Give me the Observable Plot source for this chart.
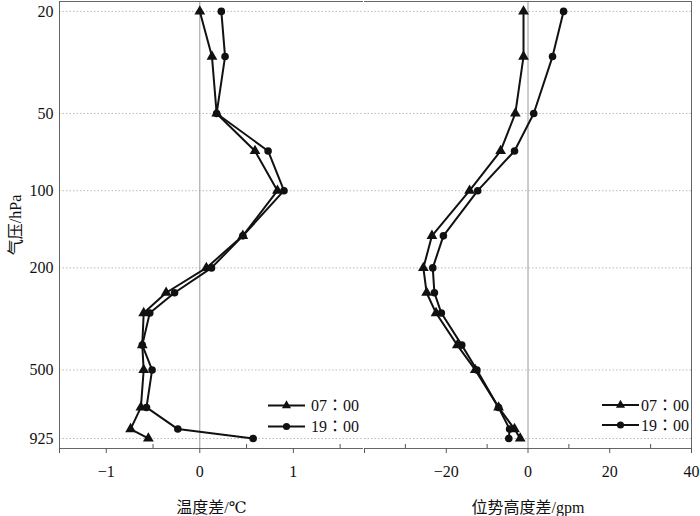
<!DOCTYPE html>
<html>
<head>
<meta charset="utf-8">
<script src="https://cdn.jsdelivr.net/npm/d3@7"></script>
<script src="https://cdn.jsdelivr.net/npm/@observablehq/plot@0.6"></script>
<style>
  html, body { margin: 0; padding: 0; background: #fff; }
  #wrap { position: relative; width: 700px; height: 516px; display: flex; }
  #wrap svg { display: block; }
  #legend { position: absolute; left: 0; top: 0; pointer-events: none; }
</style>
</head>
<body>
<div id="wrap"></div>
<script>
const levels = [20, 30, 50, 70, 100, 150, 200, 250, 300, 400, 500, 700, 850, 925];
const temp07 = [0.0, 0.13, 0.18, 0.59, 0.83, 0.46, 0.07, -0.36, -0.60, -0.615, -0.60, -0.63, -0.74, -0.55];
const temp19 = [0.23, 0.27, 0.18, 0.73, 0.90, 0.46, 0.125, -0.27, -0.535, -0.615, -0.51, -0.57, -0.235, 0.57];
const hgt07 = [-1.1, -1.1, -3.1, -6.7, -14.3, -23.5, -25.6, -24.8, -22.5, -17.3, -12.9, -7.2, -3.3, -1.9];
const hgt19 = [8.7, 6.0, 1.4, -3.3, -12.3, -20.7, -23.3, -22.9, -21.2, -16.2, -12.5, -7.2, -4.5, -4.7];
const yTicks = [20, 50, 100, 200, 500, 925];
const seriesNames = ["07\uFF1A00", "19\uFF1A00"];
const tempMajor = [-1.5, -1, 0, 1];
const tempMinor = [-0.5, 0.5, 1.5];
const hgtMajor = [-40, -20, 0, 20, 40];
const hgtMinor = [-30, -10, 10, 30];

const H = 516, MT = 1, MB = 68;
const plotH = H - MT - MB;
const font = "Liberation Serif, Times New Roman, DejaVu Serif, Noto Sans CJK TC, serif";
const fmt = d => d < 0 ? "\u2212" + Math.abs(d) : String(d);

function rows(vals) { return levels.map((p, i) => ({p, v: vals[i]})); }

function panel({width, ml, mr, domain, s07, s19, major, minor, label, showY, fullFrame}) {
  const d07 = rows(s07), d19 = rows(s19);
  return Plot.plot({
    width, height: H, marginTop: MT, marginBottom: MB, marginLeft: ml, marginRight: mr,
    style: {fontFamily: font, fontSize: "16px", color: "#111", background: "white"},
    x: {domain},
    y: {type: "log", domain: [18.3, 1012], reverse: true},
    marks: [
      Plot.ruleY(yTicks, {y: d => d, stroke: "#bbb", strokeDasharray: "1.5,2"}),
      Plot.ruleX([0], {x: d => d, stroke: "#9a9a9a", strokeWidth: 1}),
      fullFrame ? Plot.frame({stroke: "#666"}) : null,
      fullFrame ? null : Plot.frame({anchor: "top", stroke: "#666"}),
      fullFrame ? null : Plot.frame({anchor: "right", stroke: "#666"}),
      fullFrame ? null : Plot.frame({anchor: "bottom", stroke: "#666"}),
      Plot.tickX(minor, {x: d => d, stroke: "#555", insetTop: plotH - 4}),
      Plot.axisX({ticks: major, tickSize: 5, tickPadding: 12, stroke: "#555", fontFamily: font,
        tickFormat: d => (d === domain[0] ? "" : fmt(d)),
        label, labelAnchor: "center", labelOffset: 64, labelArrow: "none", fontSize: 16}),
      showY ? Plot.text(yTicks, {y: d => d, text: d => String(d), frameAnchor: "left", textAnchor: "end",
        dx: -6, fontSize: 16, fontFamily: font, fill: "#111"}) : null,
      Plot.axisY({ticks: [], label: showY ? "气压/hPa" : null, labelAnchor: "center", labelOffset: 50,
        labelArrow: "none", fontSize: 16, fontFamily: font}),
      Plot.line(d07, {x: "v", y: "p", stroke: "#111", strokeWidth: 2}),
      Plot.line(d19, {x: "v", y: "p", stroke: "#111", strokeWidth: 2}),
      Plot.dot(d07, {x: "v", y: "p", symbol: "triangle", r: 4, fill: "#111", stroke: "none"}),
      Plot.dot(d19, {x: "v", y: "p", symbol: "circle", r: 3.8, fill: "#111", stroke: "none"})
    ]
  });
}

const wrap = document.getElementById("wrap");
wrap.appendChild(panel({width: 363, ml: 59, mr: 0, domain: [-1.5, 1.75], s07: temp07, s19: temp19,
  major: tempMajor, minor: tempMinor, label: "温度差/℃", showY: true, fullFrame: true}));
wrap.appendChild(panel({width: 337, ml: 1, mr: 9, domain: [-40, 40], s07: hgt07, s19: hgt19,
  major: hgtMajor, minor: hgtMinor, label: "位势高度差/gpm", showY: false, fullFrame: false}));

// legends (one per panel)
const leg = d3.select(wrap).append("svg").attr("id", "legend").attr("width", 700).attr("height", H);
const legendSpots = [{x0: 268, x1: 305, tx: 311, y0: 405.5, dy: 21}, {x0: 602, x1: 639, tx: 641, y0: 405, dy: 20}];
legendSpots.forEach(s => {
  seriesNames.forEach((name, i) => {
    const y = s.y0 + i * s.dy;
    const g = leg.append("g");
    g.append("line").attr("x1", s.x0).attr("x2", s.x1).attr("y1", y).attr("y2", y)
      .attr("stroke", "#111").attr("stroke-width", 2);
    const mx = (s.x0 + s.x1) / 2;
    const sym = d3.symbol(i === 0 ? d3.symbolTriangle : d3.symbolCircle, i === 0 ? 36 : 40)();
    g.append("path").attr("d", sym).attr("transform", `translate(${mx},${y})`).attr("fill", "#111");
    g.append("text").attr("x", s.tx).attr("y", y).attr("dy", "0.35em")
      .attr("font-family", font).attr("font-size", 16).attr("fill", "#111").text(name);
  });
});
</script>
</body>
</html>
